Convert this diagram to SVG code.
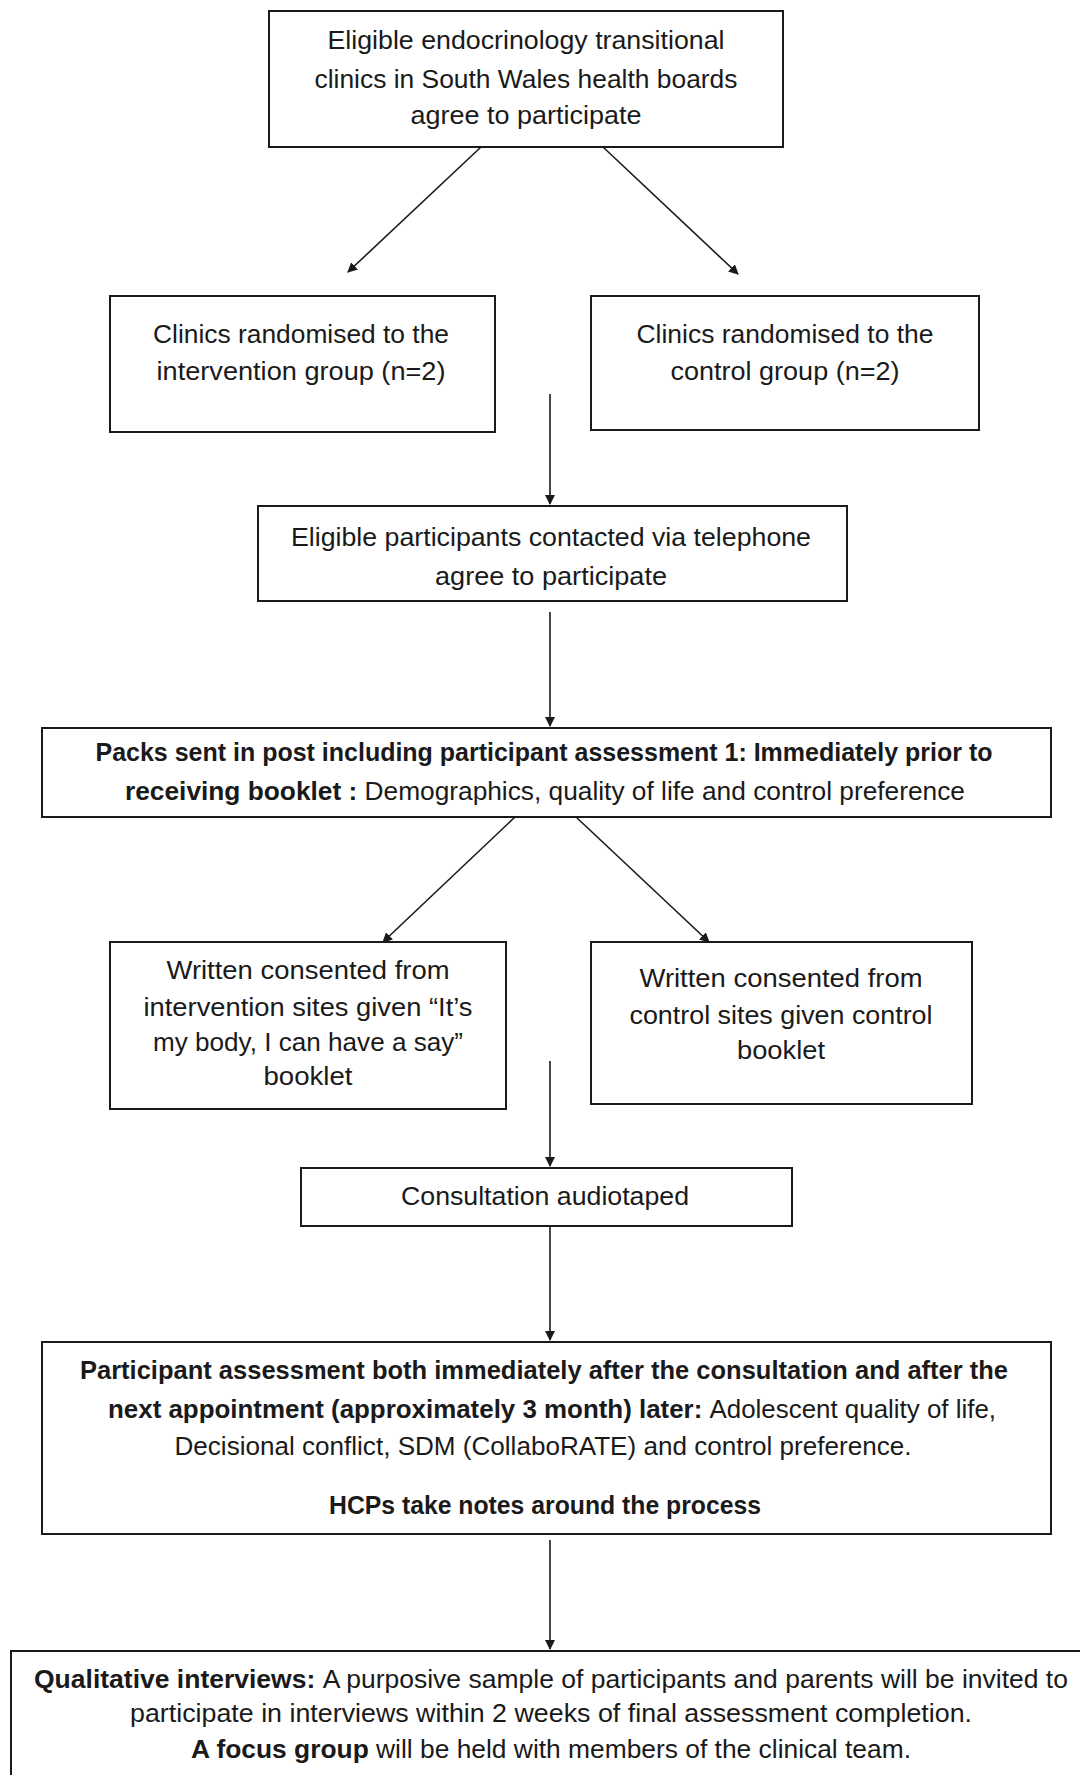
<svg xmlns="http://www.w3.org/2000/svg" width="1080" height="1775" viewBox="0 0 1080 1775">
<style>
.box{fill:#fff;stroke:#1a1a1a;stroke-width:2}
.t{font-family:"Liberation Sans",Arial,sans-serif;font-size:25px;fill:#1a1a1a;text-anchor:middle}
.b{font-weight:bold}
.c{stroke:#1a1a1a;stroke-width:1.6;fill:none;marker-end:url(#ah)}
</style>
<defs>
<marker id="ah" viewBox="0 0 10 10" refX="9" refY="5" markerWidth="10" markerHeight="10" markerUnits="userSpaceOnUse" orient="auto">
<path d="M0,0 L10,5 L0,10 z" fill="#1a1a1a"/>
</marker>
</defs>
<rect width="1080" height="1775" fill="#fff"/>
<g id="connectors">
<line class="c" x1="481" y1="147" x2="348" y2="272"/>
<line class="c" x1="603" y1="147" x2="738" y2="274"/>
<line class="c" x1="550" y1="394" x2="550" y2="504"/>
<line class="c" x1="550" y1="612" x2="550" y2="726"/>
<line class="c" x1="515" y1="817" x2="383" y2="942"/>
<line class="c" x1="576" y1="817" x2="709" y2="942"/>
<line class="c" x1="550" y1="1061" x2="550" y2="1166"/>
<line class="c" x1="550" y1="1226" x2="550" y2="1340"/>
<line class="c" x1="550" y1="1540" x2="550" y2="1649"/>
</g>
<g id="n1">
<rect class="box" x="269" y="11" width="514" height="136"/>
<text class="t" x="526" y="49" textLength="397" lengthAdjust="spacingAndGlyphs">Eligible endocrinology transitional</text>
<text class="t" x="526" y="88" textLength="423" lengthAdjust="spacingAndGlyphs">clinics in South Wales health boards</text>
<text class="t" x="526" y="124" textLength="231" lengthAdjust="spacingAndGlyphs">agree to participate</text>
</g>
<g id="n2">
<rect class="box" x="110" y="296" width="385" height="136"/>
<text class="t" x="301" y="343" textLength="296" lengthAdjust="spacingAndGlyphs">Clinics randomised to the</text>
<text class="t" x="301" y="380" textLength="289" lengthAdjust="spacingAndGlyphs">intervention group (n=2)</text>
</g>
<g id="n3">
<rect class="box" x="591" y="296" width="388" height="134"/>
<text class="t" x="785" y="343" textLength="297" lengthAdjust="spacingAndGlyphs">Clinics randomised to the</text>
<text class="t" x="785" y="380" textLength="229" lengthAdjust="spacingAndGlyphs">control group (n=2)</text>
</g>
<g id="n4">
<rect class="box" x="258" y="506" width="589" height="95"/>
<text class="t" x="551" y="546" textLength="520" lengthAdjust="spacingAndGlyphs">Eligible participants contacted via telephone</text>
<text class="t" x="551" y="585" textLength="232" lengthAdjust="spacingAndGlyphs">agree to participate</text>
</g>
<g id="n5">
<rect class="box" x="42" y="728" width="1009" height="89"/>
<text class="t" x="544" y="761" textLength="897" lengthAdjust="spacingAndGlyphs"><tspan class="b">Packs sent in post including participant assessment 1: Immediately prior to</tspan></text>
<text class="t" x="545" y="800" textLength="840" lengthAdjust="spacingAndGlyphs"><tspan class="b">receiving booklet : </tspan>Demographics, quality of life and control preference</text>
</g>
<g id="n6">
<rect class="box" x="110" y="942" width="396" height="167"/>
<text class="t" x="308" y="979" textLength="283" lengthAdjust="spacingAndGlyphs">Written consented from</text>
<text class="t" x="308" y="1016" textLength="329" lengthAdjust="spacingAndGlyphs">intervention sites given “It’s</text>
<text class="t" x="308" y="1051" textLength="310" lengthAdjust="spacingAndGlyphs">my body, I can have a say”</text>
<text class="t" x="308" y="1085" textLength="89" lengthAdjust="spacingAndGlyphs">booklet</text>
</g>
<g id="n7">
<rect class="box" x="591" y="942" width="381" height="162"/>
<text class="t" x="781" y="987" textLength="283" lengthAdjust="spacingAndGlyphs">Written consented from</text>
<text class="t" x="781" y="1024" textLength="303" lengthAdjust="spacingAndGlyphs">control sites given control</text>
<text class="t" x="781" y="1059" textLength="88" lengthAdjust="spacingAndGlyphs">booklet</text>
</g>
<g id="n8">
<rect class="box" x="301" y="1168" width="491" height="58"/>
<text class="t" x="545" y="1205" textLength="288" lengthAdjust="spacingAndGlyphs">Consultation audiotaped</text>
</g>
<g id="n9">
<rect class="box" x="42" y="1342" width="1009" height="192"/>
<text class="t" x="544" y="1379" textLength="928" lengthAdjust="spacingAndGlyphs"><tspan class="b">Participant assessment both immediately after the consultation and after the</tspan></text>
<text class="t" x="552" y="1418" textLength="888" lengthAdjust="spacingAndGlyphs"><tspan class="b">next appointment (approximately 3 month) later: </tspan>Adolescent quality of life,</text>
<text class="t" x="543" y="1455" textLength="737" lengthAdjust="spacingAndGlyphs">Decisional conflict, SDM (CollaboRATE) and control preference.</text>
<text class="t" x="545" y="1514" textLength="432" lengthAdjust="spacingAndGlyphs"><tspan class="b">HCPs take notes around the process</tspan></text>
</g>
<g id="n10">
<rect class="box" x="11" y="1651" width="1080" height="140"/>
<text class="t" x="551" y="1688" textLength="1034" lengthAdjust="spacingAndGlyphs"><tspan class="b">Qualitative interviews: </tspan>A purposive sample of participants and parents will be invited to</text>
<text class="t" x="551" y="1722" textLength="842" lengthAdjust="spacingAndGlyphs">participate in interviews within 2 weeks of final assessment completion.</text>
<text class="t" x="551" y="1758" textLength="720" lengthAdjust="spacingAndGlyphs"><tspan class="b">A focus group </tspan>will be held with members of the clinical team.</text>
</g>
</svg>
